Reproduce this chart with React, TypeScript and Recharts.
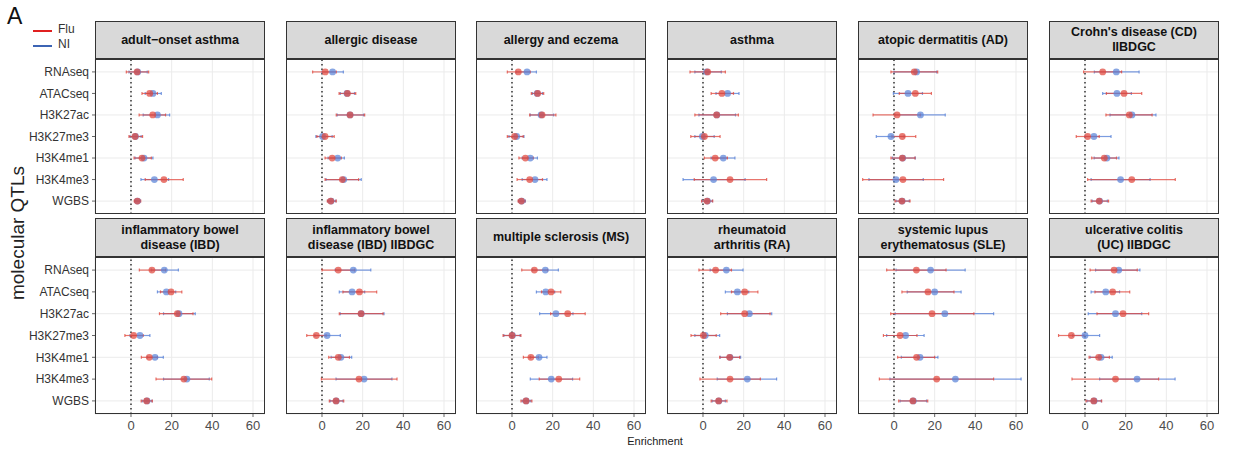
import React from "react";
import { ScatterChart, Scatter, XAxis, YAxis, CartesianGrid, ErrorBar, ReferenceLine } from "recharts";

const marks = ["RNAseq", "ATACseq", "H3K27ac", "H3K27me3", "H3K4me1", "H3K4me3", "WGBS"];

const traits = [
  ["adult−onset asthma"],
  ["allergic disease"],
  ["allergy and eczema"],
  ["asthma"],
  ["atopic dermatitis (AD)"],
  ["Crohn's disease (CD)", "IIBDGC"],
  ["inflammatory bowel", "disease (IBD)"],
  ["inflammatory bowel", "disease (IBD) IIBDGC"],
  ["multiple sclerosis (MS)"],
  ["rheumatoid", "arthritis (RA)"],
  ["systemic lupus", "erythematosus (SLE)"],
  ["ulcerative colitis", "(UC) IIBDGC"],
];

const xTicks = [0, 20, 40, 60];

// one row per trait, one column per mark
const fluEstimate = [
  [3, 9.2, 10.7, 2, 5.4, 16.2, 3.1],
  [1.6, 12.5, 13.8, 1.5, 5, 10, 4.3],
  [3.1, 12.6, 14.8, 1.3, 6.6, 8.7, 4.6],
  [2.3, 9.3, 6.7, 0.7, 6, 13.3, 2],
  [10, 10.5, 1.5, 4.1, 4.1, 4.4, 3.9],
  [8.7, 19.2, 21.8, 1.3, 9.5, 23, 7],
  [10.3, 19.7, 22.8, 1.3, 9, 26, 7.7],
  [8, 18.4, 19.2, -2.8, 8, 18.2, 6.9],
  [11, 19.2, 27.4, 0, 9.3, 23, 6.9],
  [6.2, 20.5, 20.5, 0.2, 13.1, 13.3, 7.7],
  [11, 16.7, 18.7, 3, 11.1, 21, 9.3],
  [14.3, 13.6, 18.7, -6.7, 6.7, 15, 4.3],
];
const fluLower = [
  [-2.3, 5.4, 4, -1, 1.5, 7, 1.6],
  [-4.6, 8.4, 7, -2.5, 1.5, 1.5, 2.6],
  [-2.3, 9.5, 8.7, -2.3, 3.4, 2.5, 3],
  [-6.4, 4, -4, -6, 0.7, -4.3, -0.7],
  [-1.5, 2.6, -10.3, -1, -1.5, -15.4, 0.5],
  [-0.7, 10.5, 10.3, -4.3, 3.3, 1.3, 3],
  [4.1, 14.5, 14, -3, 5.1, 12.3, 5],
  [0, 10.3, 8.5, -7.5, 3.3, -0.3, 3.6],
  [4.8, 14.5, 19, -4.4, 5.6, 13.4, 4.4],
  [-2, 14, 8.7, -5.9, 8.2, -1.5, 4],
  [-3.6, 3.9, -1.6, -5.2, 1.8, -7.2, 2.3],
  [2.5, 4.9, 5.9, -13, 2, -6.4, 0.5],
];
const fluUpper = [
  [8.7, 13, 17, 5.7, 10, 25.7, 4.8],
  [7, 16.6, 21, 6, 9.5, 18, 7],
  [9, 15.6, 21.6, 5.5, 10.5, 15, 6.4],
  [11, 15, 17.4, 8.4, 12, 31.3, 4.8],
  [21.5, 18.4, 13, 10.7, 10.3, 24.4, 7.9],
  [18, 27.9, 33, 7, 15.5, 44.4, 11.6],
  [17, 25, 30.5, 6, 13, 39.7, 10.5],
  [16, 26.9, 30, 2, 13.5, 36.9, 10.7],
  [17.5, 24, 36, 4.4, 13, 33.3, 9.8],
  [14, 27, 33, 6.5, 18, 28.2, 11.8],
  [25.6, 29.5, 39.3, 11.3, 20, 49, 16.6],
  [25.7, 22, 31.3, -0.5, 12, 36.2, 8.2],
];
const niEstimate = [
  [3.3, 10.8, 13, 2.2, 6.4, 11.5, 3.2],
  [5.2, 12.3, 13.8, 0.3, 7.7, 10.7, 4.5],
  [7.4, 12.4, 14.3, 2.3, 9, 11.3, 4.8],
  [1.8, 12.1, 6.8, -0.3, 10, 5.2, 2.2],
  [11.1, 6.9, 13, -1.5, 4.3, 1, 4],
  [15.4, 15.7, 23.1, 4.4, 10.8, 17.5, 7.2],
  [16.4, 17.4, 23.6, 4.4, 11.8, 27.5, 7.9],
  [15.4, 14.8, 19.3, 2.5, 9.3, 20.7, 7],
  [16.4, 16.6, 21.6, 0.2, 13.3, 19.3, 7],
  [11.5, 16.9, 22.8, 1.1, 13.3, 21.8, 7.8],
  [18, 20, 25, 5.7, 12.8, 30.2, 9.5],
  [16.6, 10.2, 15, 0, 7.9, 25.6, 4.5],
];
const niLower = [
  [-1, 7, 6, -0.5, 2, 4.9, 2],
  [0, 9, 7.5, -3, 3, 2, 2.8],
  [2, 10, 9, -1.5, 5, 5, 3.2],
  [-4, 6.4, -2, -4, 4, -9.8, -0.5],
  [0, -0.3, 0.5, -8.7, -0.8, -12.3, 1],
  [4.6, 8.7, 12.3, 0, 4.5, 3, 3.5],
  [10, 13, 16, -0.5, 8, 16, 5.5],
  [6.5, 8.5, 9, -3.5, 4.5, 6.9, 4],
  [10, 12, 13.6, -4, 9, 9, 5],
  [3.5, 11, 12, -4, 8.5, 7, 4.5],
  [1, 6.5, 0.6, -3.6, 3.6, -2, 3],
  [5.2, 3, 1.6, -6, 2.5, 7.2, 1],
];
const niUpper = [
  [8, 14.9, 19, 5, 10.8, 18.5, 4.5],
  [10.5, 16, 20.5, 5, 11, 19.3, 6.8],
  [12, 15, 20.5, 5.9, 12.5, 17.2, 6.6],
  [9, 17.7, 16, 5.5, 15.7, 20.7, 4.6],
  [21, 14, 25.2, 5, 10.5, 14.4, 7.5],
  [26.6, 22.8, 34.9, 12.8, 16.7, 32, 11],
  [23.3, 22, 31.6, 9.3, 15.9, 38.5, 10.3],
  [24, 21, 30.5, 9, 14.6, 34.4, 10.3],
  [22.8, 21, 30, 4, 17.2, 29.8, 9.3],
  [19.7, 22.5, 33.8, 8.2, 18.5, 36.2, 11],
  [35, 33, 49, 14.8, 21.6, 62.5, 16],
  [27, 17, 27.9, 7.2, 13.4, 44.3, 8],
];

const FLU = "#e0473c";
const NI = "#5a83d8";

const colLeft = [95, 286, 476, 667, 858, 1049];
const rowTop = [21, 218];
const stripH = [38, 39];
const plotW = 170;
const plotH = [155, 157];
const axisW = 80;
const xDomain = [-17.7, 65.9];
const font = "'Liberation Sans', Arial, Helvetica, sans-serif";

const series = (est: number[], lo: number[], hi: number[]) =>
  est.map((v, i) => ({ x: v, y: i, err: [v - lo[i], hi[i] - v] }));

const dot = (color: string) => (p: any) =>
  <circle cx={p.cx} cy={p.cy} r={3.4} fill={color} fillOpacity={0.72} />;

const Panel = ({ idx }: { idx: number }) => {
  const row = Math.floor(idx / 6);
  const col = idx % 6;
  const first = col === 0;
  const bottom = row === 1;
  const left = colLeft[col] - (first ? axisW : 0);
  const top = rowTop[row] + stripH[row];
  const h = plotH[row];
  const w = plotW + (first ? axisW : 0);
  return (
    <>
      <div
        style={{
          position: "absolute", left: colLeft[col], top: rowTop[row], width: plotW, height: stripH[row],
          background: "#d9d9d9", border: "1px solid #333", boxSizing: "border-box",
          display: "flex", flexDirection: "column", justifyContent: "center", alignItems: "center",
          fontWeight: "bold", fontSize: 12.5, lineHeight: "15px", color: "#111", textAlign: "center",
        }}
      >
        {traits[idx].map((t) => <div key={t}>{t}</div>)}
      </div>
      <div style={{ position: "absolute", left, top }}>
        <ScatterChart width={w} height={h + (bottom ? 24 : 0)} margin={{ top: 0, right: 0, bottom: 0, left: 0 }}>
          <CartesianGrid stroke="#ebebeb" strokeWidth={1} />
          <XAxis
            type="number" dataKey="x" domain={xDomain} ticks={xTicks} allowDataOverflow
            hide={!bottom} height={24} tickSize={3} tickMargin={4} axisLine={false}
            tick={{ fontSize: 13, fill: "#4d4d4d", fontFamily: font }}
          />
          <YAxis
            type="number" dataKey="y" domain={[-0.6, 6.6]} ticks={[0, 1, 2, 3, 4, 5, 6]} reversed
            allowDataOverflow hide={!first} width={axisW} axisLine={false} tickSize={3} tickMargin={3}
            tickFormatter={(v: number) => marks[v]}
            tick={{ fontSize: 12, fill: "#333", fontFamily: font }}
          />
          <ReferenceLine x={0} stroke="#000" strokeWidth={1.2} strokeDasharray="1.5 3" />
          <Scatter data={series(niEstimate[idx], niLower[idx], niUpper[idx])} shape={dot(NI)} isAnimationActive={false}>
            <ErrorBar dataKey="err" direction="x" width={1.5} stroke={NI} strokeOpacity={0.8} strokeWidth={1.2} />
          </Scatter>
          <Scatter data={series(fluEstimate[idx], fluLower[idx], fluUpper[idx])} shape={dot(FLU)} isAnimationActive={false}>
            <ErrorBar dataKey="err" direction="x" width={1.5} stroke={FLU} strokeOpacity={0.75} strokeWidth={1.2} />
          </Scatter>
        </ScatterChart>
      </div>
      <div
        style={{
          position: "absolute", left: colLeft[col], top, width: plotW, height: h,
          border: "1px solid #333", boxSizing: "border-box", pointerEvents: "none",
        }}
      />
    </>
  );
};

export default function App() {
  return (
    <div style={{ position: "absolute", left: 0, top: 0, width: 1233, height: 450, background: "#fff", fontFamily: font, overflow: "hidden" }}>
      <div style={{ position: "absolute", left: 7, top: 3, fontSize: 23, color: "#111" }}>A</div>
      <div style={{ position: "absolute", left: 33, top: 30, width: 19, height: 2, background: "#e02020" }} />
      <div style={{ position: "absolute", left: 58, top: 22, fontSize: 12, color: "#333" }}>Flu</div>
      <div style={{ position: "absolute", left: 33, top: 45, width: 19, height: 2, background: "#3c64b4" }} />
      <div style={{ position: "absolute", left: 58, top: 37, fontSize: 12, color: "#333" }}>NI</div>
      <div
        style={{
          position: "absolute", left: 18, top: 233, fontSize: 19, color: "#222", whiteSpace: "nowrap",
          transform: "translate(-50%, -50%) rotate(-90deg)",
        }}
      >
        molecular QTLs
      </div>
      {traits.map((_, i) => <Panel key={i} idx={i} />)}
      <div style={{ position: "absolute", left: 655, top: 441, fontSize: 11, color: "#222", transform: "translate(-50%, -50%)" }}>
        Enrichment
      </div>
    </div>
  );
}
